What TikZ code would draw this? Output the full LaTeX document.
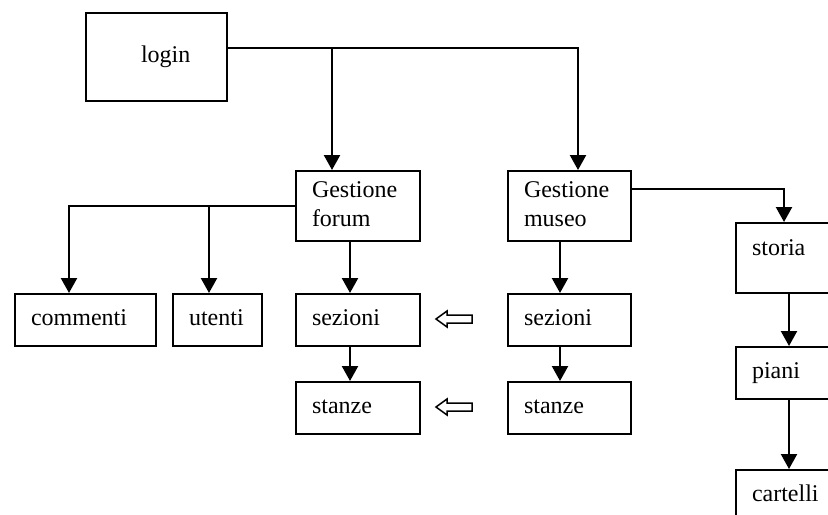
\documentclass[tikz,border=0pt]{standalone}
\usepackage{fontspec}
\setmainfont{Liberation Serif}
\usetikzlibrary{arrows.meta, positioning}
\tikzset{box/.style={draw, line width=1pt, anchor=north west, align=left, inner xsep=8pt, inner ysep=0pt,
  font=\fontsize{12}{14.4}\selectfont, execute at begin node=\strut, execute at end node=\strut}}

\begin{document}
\begin{tikzpicture}[x=0.5pt, y=-0.5pt, >={Triangle[length=7.5pt,width=8pt]}, line width=1.15pt]
\useasboundingbox (0,0) rectangle (828,514);
\clip (0,0) rectangle (828,514);
\node[box, text width=54.5pt, minimum height=44pt] (login) at (85,12) {\hspace*{19.5pt}login};
\node[box, text width=46pt, minimum height=35pt] (forum) at (295,170) {Gestione\\forum};
\node[box, text width=45.5pt, minimum height=35pt] (museo) at (507,170) {Gestione\\museo};
\node[box, text width=37pt, minimum height=35pt, text height=16pt, text depth=19pt] (storia) at (735,222) {storia};
\node[box, text width=54.5pt, minimum height=26pt] (commenti) at (14,293) {commenti};
\node[box, text width=28.5pt, minimum height=26pt] (utenti) at (172,293) {utenti};
\node[box, text width=46pt, minimum height=26pt] (fsez) at (295,293) {sezioni};
\node[box, text width=46pt, minimum height=26pt] (fstan) at (295,381) {stanze};
\node[box, text width=45.5pt, minimum height=26pt] (msez) at (507,293) {sezioni};
\node[box, text width=45.5pt, minimum height=26pt] (mstan) at (507,381) {stanze};
\node[box, text width=37pt, minimum height=26pt] (piani) at (735,346) {piani};
\node[box, text width=37pt, minimum height=26pt] (cartelli) at (735,469) {cartelli};
\coordinate (lo) at ([yshift=4.5pt]login.east);
\coordinate (fd) at ([xshift=-13pt]forum.north);
\coordinate (md) at ([xshift=4.25pt]museo.north);
\coordinate (cu) at ([xshift=-4.25pt]utenti.north);
\draw[->] (lo) -| (md);
\draw[->] (lo -| fd) -- (fd);
\draw[->] ([yshift=8.5pt]museo.east) -| ([xshift=-2.5pt]storia.north);
\draw[->] (forum.west) -| ([xshift=-8.25pt]commenti.north);
\draw[->] (forum.west -| cu) -- (cu);
\draw[->] ([xshift=-4pt]forum.south) -- ([xshift=-4pt]fsez.north);
\draw[->] ([xshift=-4pt]fsez.south) -- ([xshift=-4pt]fstan.north);
\draw[->] ([xshift=-4.75pt]museo.south) -- ([xshift=-4.75pt]msez.north);
\draw[->] ([xshift=-4.75pt]msez.south) -- ([xshift=-4.75pt]mstan.north);
\draw[->] (storia) -- (piani);
\draw[->] (piani) -- (cartelli);
\foreach \y in {319,407}
  \draw[line width=0.75pt, shift={(454,\y)}] (18,-4) -- (-7,-4) -- (-7,-8) -- (-18,0) -- (-7,8) -- (-7,4) -- (18,4) -- cycle;
\end{tikzpicture}
\end{document}
